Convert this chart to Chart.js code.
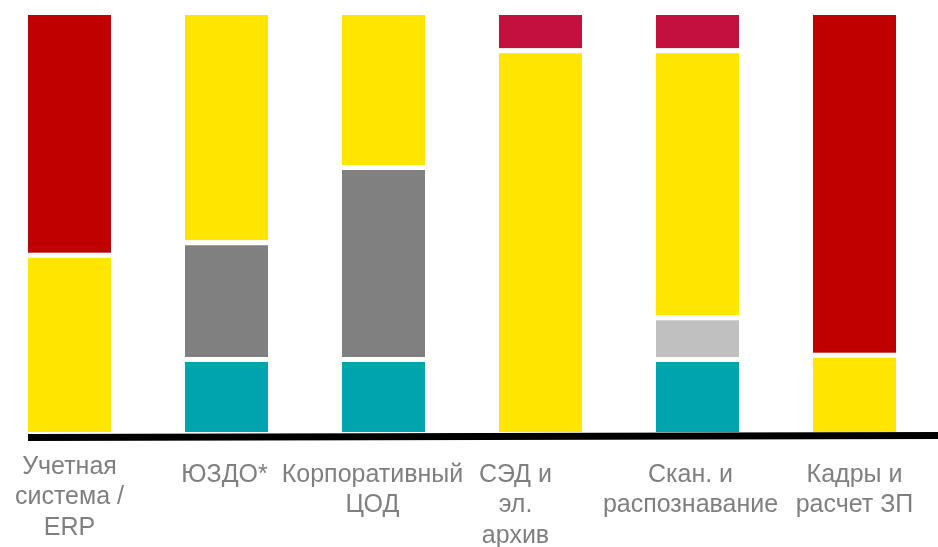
<!DOCTYPE html>
<html>
<head>
<meta charset="utf-8">
<script src="https://cdn.jsdelivr.net/npm/chart.js@4/dist/chart.umd.min.js"></script>
<style>
    html, body { margin: 0; padding: 0; background: #fff; overflow: hidden; }
    #wrap { position: absolute; left: -9px; top: 0; width: 948px; height: 547px; }
</style>
</head>
<body>
<div id="wrap"><canvas id="chart"></canvas></div>
<script>
// categories (multi-line labels)
var categories = [
    ['Учетная', 'система /', 'ERP'],
    ['ЮЗДО*'],
    ['Корпоративный', 'ЦОД'],
    ['СЭД и', 'эл.', 'архив'],
    ['Скан. и', 'распознавание'],
    ['Кадры и', 'расчет ЗП']
];

// stacked shares, % (bottom to top)
var tealValues      = [0, 18, 18, 0, 18, 0];
var lightGrayValues = [0, 0, 0, 0, 10, 0];
var grayValues      = [0, 28, 46, 0, 0, 0];
var yellowValues    = [43, 54, 36, 92, 64, 19];
var crimsonValues   = [0, 0, 0, 8, 8, 0];
var redValues       = [57, 0, 0, 0, 0, 81];

// label nudges (text boxes in the original are not all centred)
var labelShiftX = [0, -2, -11, -25, -7, 0];
var labelShiftY = [-8, 0, 0, 0, 0, 0];

var series = [
    { name: 'teal', data: tealValues, color: '#00A4AE' },
    { name: 'lightgray', data: lightGrayValues, color: '#C0C0C0' },
    { name: 'gray', data: grayValues, color: '#808080' },
    { name: 'yellow', data: yellowValues, color: '#FFE500' },
    { name: 'crimson', data: crimsonValues, color: '#C3103E' },
    { name: 'red', data: redValues, color: '#C00000' }
];

function topIndex(col) {
    var top = -1;
    for (var i = 0; i < series.length; i++) {
        if (series[i].data[col] > 0) top = i;
    }
    return top;
}

var datasets = series.map(function(s, idx) {
    return {
        label: s.name,
        data: s.data,
        backgroundColor: s.color,
        borderColor: '#ffffff',
        borderSkipped: false,
        borderWidth: function(ctx) {
            if (topIndex(ctx.dataIndex) === idx) return 0;
            return { top: 5, right: 0, bottom: 0, left: 0 };
        },
        categoryPercentage: 0.529,
        barPercentage: 1
    };
});

var labelsPlugin = {
    id: 'labelsPlugin',
    afterDraw: function(chart) {
        var c = chart.ctx, x = chart.scales.x, area = chart.chartArea;
        c.save();
        // thick base line
        c.strokeStyle = '#000';
        c.lineWidth = 7;
        c.beginPath();
        c.moveTo(37, area.bottom + 5.5);
        c.lineTo(chart.width, area.bottom + 3.5);
        c.stroke();

        c.fillStyle = '#7F7F7F';
        c.font = '25px "Liberation Sans", Arial, sans-serif';
        c.textAlign = 'center';
        c.textBaseline = 'alphabetic';
        categories.forEach(function(lines, i) {
            var cx = x.getPixelForValue(i) + labelShiftX[i];
            var y0 = area.bottom + 49.5 + labelShiftY[i];
            lines.forEach(function(line, j) {
                c.fillText(line, cx, y0 + j * 30.5);
            });
        });
        c.restore();
    }
};

new Chart(document.getElementById('chart'), {
    type: 'bar',
    data: {
        labels: categories.map(function(l) { return l.join(' '); }),
        datasets: datasets
    },
    options: {
        responsive: true,
        maintainAspectRatio: false,
        animation: false,
        layout: { padding: { top: 15, bottom: 115, left: 0, right: 6 } },
        plugins: {
            legend: { display: false },
            tooltip: { enabled: false }
        },
        scales: {
            x: { stacked: true, display: false },
            y: { stacked: true, display: false, min: 0, max: 100 }
        }
    },
    plugins: [labelsPlugin]
});
</script>
</body>
</html>
